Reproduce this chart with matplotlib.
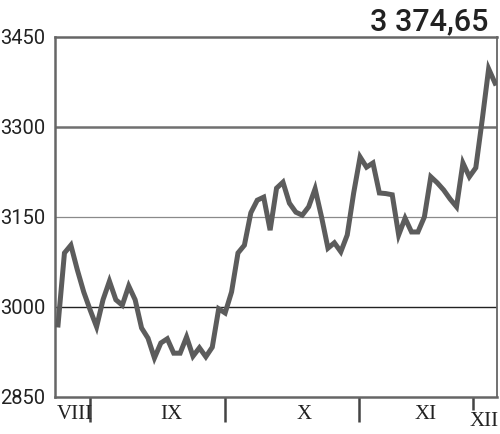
import matplotlib
matplotlib.use('Agg')
import matplotlib.pyplot as plt
import matplotlib.transforms as mtransforms

# trading day index and index value
days = [0, 1, 2, 3, 4, 5, 6, 7, 8, 9, 10, 11, 12, 13, 14, 15, 16, 17, 18, 19,
        20, 21, 22, 23, 24, 25, 26, 27, 28, 29, 30, 31, 32, 33, 34, 35, 36, 37,
        38, 39, 40, 41, 42, 43, 44, 45, 46, 47, 48, 49, 50, 51, 52, 53, 54, 55,
        56, 57, 58, 59, 60, 61, 62, 63, 64, 65, 66, 67, 68]
values = [2970, 3090, 3103, 3062, 3025, 2995, 2967, 3012, 3043, 3012, 3003,
          3035, 3012, 2965, 2948, 2915, 2940, 2947, 2923, 2923, 2950, 2918,
          2932, 2917, 2933, 2997, 2990, 3025, 3090, 3103, 3157, 3178, 3183,
          3128, 3198, 3208, 3173, 3158, 3153, 3167, 3197, 3150, 3098, 3107,
          3092, 3120, 3190, 3250, 3233, 3240, 3190, 3189, 3187, 3120, 3148,
          3125, 3125, 3150, 3217, 3207, 3195, 3180, 3167, 3240, 3217, 3232,
          3312, 3397, 3373]
last_value = "3 374,65"

yticks = [2850, 3000, 3150, 3300, 3450]
month_breaks = [5.0, 26.0, 46.8, 64.5]
month_names = ['VIII', 'IX', 'X', 'XI', 'XII']
month_pos = [2.6, 17.7, 38.3, 57.2, 66.3]

fig = plt.figure(figsize=(5, 4.34), dpi=100)
ax = fig.add_axes([0.11, 0.0853, 0.884, 0.8295])

# horizontal guide lines
ax.axhline(3300, color='#707070', lw=1.8, zorder=1)
ax.axhline(3150, color='#8a8a8a', lw=0.9, zorder=1)
ax.axhline(3000, color='#222222', lw=1.0, zorder=1)

ax.plot(days, values, color='#5c5c5c', lw=3.6, solid_joinstyle='miter',
        zorder=3)

ax.set_xlim(-0.47, 68.3)
ax.set_ylim(2850, 3450)

for side in ['left', 'right', 'top', 'bottom']:
    ax.spines[side].set_color('#666666')
ax.spines['left'].set_linewidth(1.8)
ax.spines['top'].set_linewidth(1.8)
ax.spines['bottom'].set_linewidth(1.8)
ax.spines['right'].set_linewidth(1.3)

ax.set_yticks(yticks)
ax.set_yticklabels([str(t) for t in yticks], fontfamily='Roboto',
                   fontsize=14.5, color='#222222')
ax.tick_params(axis='y', length=0, pad=7)
ax.set_xticks([])

trans = mtransforms.blended_transform_factory(ax.transData, ax.transAxes)
for i, b in enumerate(month_breaks):
    low = -0.035 if i == len(month_breaks) - 1 else -0.07
    ax.plot([b, b], [0, low], transform=trans, color='#444444', lw=1.8,
            clip_on=False, solid_capstyle='butt')

for i, (name, p) in enumerate(zip(month_names, month_pos)):
    yy = -0.068 if name == 'XII' else -0.048
    ax.text(p, yy, name, transform=trans, ha='center', va='center',
            fontfamily='Liberation Serif', fontsize=15, color='#222222')

fig.text(0.976, 0.931, last_value, ha='right', va='baseline',
         fontfamily='Roboto', fontweight='medium', fontsize=22,
         color='#222222')

fig.savefig('out.png', dpi=100)
